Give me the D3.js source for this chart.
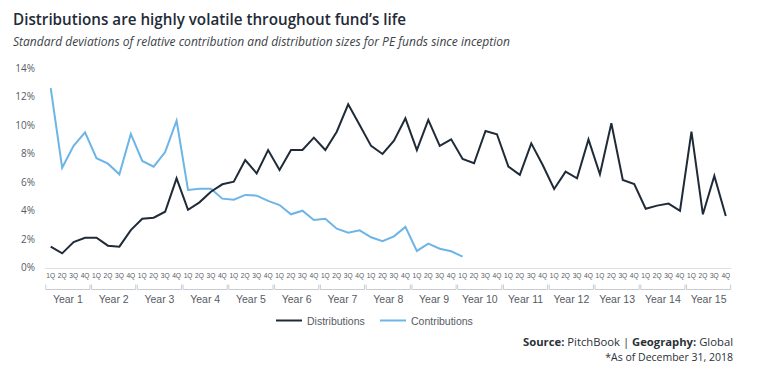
<!DOCTYPE html>
<html>
<head>
<meta charset="utf-8">
<script src="https://cdn.jsdelivr.net/npm/d3@7"></script>
<style>
  html, body { margin: 0; padding: 0; background: #fff; }
  svg { display: block; }
</style>
</head>
<body>
<svg id="chart" width="774" height="379"></svg>
<script>
const years = ["Year 1","Year 2","Year 3","Year 4","Year 5","Year 6","Year 7","Year 8","Year 9","Year 10","Year 11","Year 12","Year 13","Year 14","Year 15"];
const quarterLabels = ["1Q","2Q","3Q","4Q"];
const distributions = [1.45,0.98,1.78,2.08, 2.08,1.52,1.45,2.62, 3.42,3.49,3.91,6.26, 4.05,4.57,5.32,5.84,
  6.02,7.55,6.61,8.25, 6.85,8.25,8.25,9.12, 8.25,9.54,11.47,10.01, 8.54,7.97,8.91,10.48,
  8.25,10.37,8.54,9.0, 7.62,7.32,9.59,9.36, 7.08,6.5,8.72,7.2, 5.51,6.73,6.26,9.0,
  6.54,10.13,6.14,5.86, 4.12,4.34,4.48,3.98, 9.54,3.73,6.43,3.61];
const contributions = [12.6,7.0,8.54,9.5, 7.67,7.29,6.54,9.38, 7.48,7.08,8.11,10.32, 5.44,5.53,5.53,4.83,
  4.76,5.09,5.04,4.67, 4.38,3.73,3.98,3.33, 3.42,2.72,2.44,2.6, 2.11,1.83,2.18,2.84,
  1.15,1.66,1.31,1.13, 0.75];
const yTicks = [0,2,4,6,8,10,12,14];

const svg = d3.select("#chart");
const darkC = "#1f2b38", blueC = "#6db5e6", grayT = "#555b63";
const font = "'Open Sans', 'Noto Sans', sans-serif";

// Title
svg.append("text").attr("x", 13).attr("y", 25).text("Distributions are highly volatile throughout fund\u2019s life")
  .attr("font-family", "'Open Sans', sans-serif").attr("font-weight", 600).attr("font-size", 16.2).attr("fill", "#1f2b38")
  .attr("textLength", 393).attr("lengthAdjust", "spacingAndGlyphs");
svg.append("text").attr("x", 13).attr("y", 46).text("Standard deviations of relative contribution and distribution sizes for PE funds since inception")
  .attr("font-family", "'Open Sans', sans-serif").attr("font-style", "italic").attr("font-size", 12.2).attr("fill", "#3c4248")
  .attr("textLength", 497).attr("lengthAdjust", "spacingAndGlyphs");

const keys = [];
years.forEach((y, i) => quarterLabels.forEach(q => keys.push(i + "-" + q)));

const x = d3.scaleBand().domain(keys).range([45, 731.5]).padding(0);
const y = d3.scaleLinear().domain([0, 14]).range([267.3, 68.3]);
const cx = (i) => x(keys[i]) + x.bandwidth() / 2;

// Y axis labels
const yAxis = d3.axisLeft(y).tickValues(yTicks).tickFormat(d => d + "%").tickSize(0).tickPadding(0);
const yg = svg.append("g").attr("transform", "translate(35,0)").call(yAxis);
yg.select(".domain").remove();
yg.selectAll("text").attr("font-family", font).attr("font-size", 10).attr("fill", grayT);

// Baseline
svg.append("line").attr("x1", 45).attr("x2", 731.5).attr("y1", 268.5).attr("y2", 268.5)
  .attr("stroke", "#dde2e8").attr("stroke-width", 1.2);

// Quarter labels via axis
const xAxis = d3.axisBottom(x).tickFormat(d => d.split("-")[1]).tickSize(0).tickPadding(0);
const xg = svg.append("g").attr("transform", "translate(0,273)").call(xAxis);
xg.select(".domain").remove();
xg.selectAll("text").attr("font-family", "'Liberation Sans', sans-serif").attr("font-size", 6.6).attr("fill", grayT);

// Year brackets
const yb = svg.append("g");
years.forEach((yr, i) => {
  const x0 = x(keys[i * 4]) + 0.8, x1 = x(keys[i * 4 + 3]) + x.bandwidth() - 0.8;
  yb.append("path").attr("d", `M${x0},284.5V289.5H${x1}V284.5`).attr("fill", "none")
    .attr("stroke", "#c8ccd2").attr("stroke-width", 1);
  yb.append("text").attr("x", (x0 + x1) / 2).attr("y", 303).attr("text-anchor", "middle").text(yr)
    .attr("font-family", "'Liberation Sans', sans-serif").attr("font-size", 10.5).attr("fill", grayT);
});

// Lines
const line = d3.line().x((d, i) => cx(i)).y(d => y(d));
svg.append("path").datum(contributions).attr("d", line).attr("fill", "none")
  .attr("stroke", blueC).attr("stroke-width", 2).attr("stroke-linejoin", "miter");
svg.append("path").datum(distributions).attr("d", line).attr("fill", "none")
  .attr("stroke", darkC).attr("stroke-width", 2).attr("stroke-linejoin", "miter");

// Legend
const leg = [{name: "Distributions", c: darkC, x: 276}, {name: "Contributions", c: blueC, x: 380}];
leg.forEach(l => {
  svg.append("line").attr("x1", l.x).attr("x2", l.x + 26).attr("y1", 320.5).attr("y2", 320.5)
    .attr("stroke", l.c).attr("stroke-width", 2);
  svg.append("text").attr("x", l.x + 31).attr("y", 324.5).text(l.name)
    .attr("font-family", "'Liberation Sans', sans-serif").attr("font-size", 10.5).attr("fill", grayT);
});

// Source
const src = svg.append("text").attr("x", 733).attr("y", 346).attr("text-anchor", "end")
  .attr("font-family", "'Open Sans', sans-serif").attr("font-size", 10.5).attr("fill", "#2b3138")
  .attr("textLength", 210).attr("lengthAdjust", "spacingAndGlyphs");
src.append("tspan").attr("font-weight", 700).text("Source:");
src.append("tspan").text("\u00a0PitchBook |\u00a0");
src.append("tspan").attr("font-weight", 700).text("Geography:");
src.append("tspan").text("\u00a0Global");
svg.append("text").attr("x", 733).attr("y", 360.5).attr("text-anchor", "end").text("*As of December 31, 2018")
  .attr("font-family", "'Open Sans', sans-serif").attr("font-size", 10.5).attr("fill", "#2b3138");
</script>
</body>
</html>
